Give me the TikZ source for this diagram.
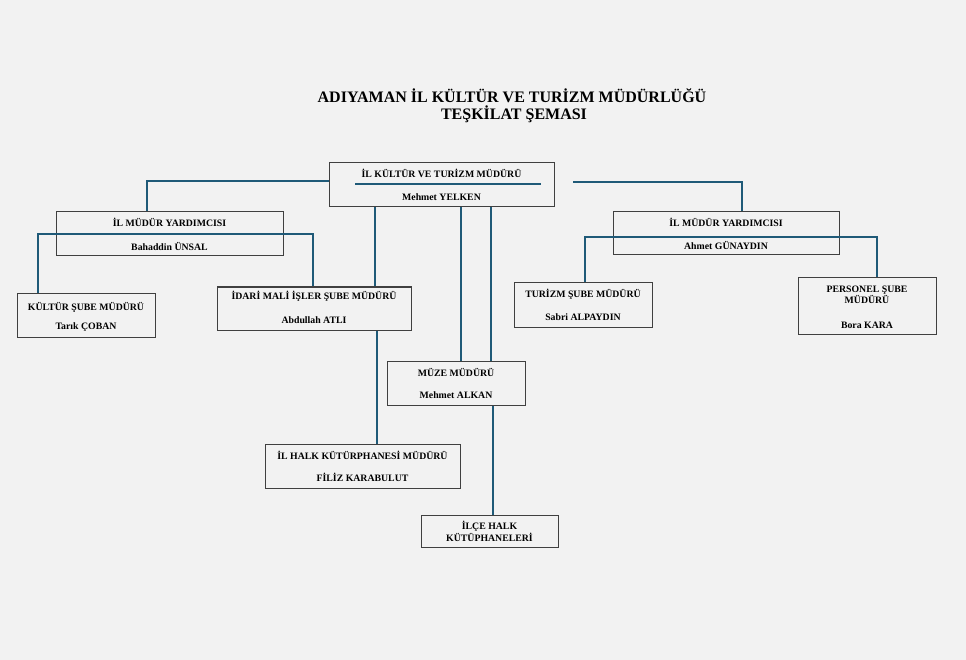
\documentclass[tikz,border=0pt]{standalone}
\usepackage{fontspec}
\setmainfont{Liberation Serif}
\definecolor{bgc}{HTML}{F2F2F2}
\definecolor{conc}{HTML}{1F5A78}
\definecolor{boxc}{HTML}{404040}
\begin{document}
\begin{tikzpicture}[x=1pt,y=-1pt,
  box/.style={draw=boxc, line width=1pt, rectangle, inner sep=0pt},
  txt/.style={inner sep=0pt, font=\bfseries\fontsize{9.8}{11}\selectfont, text=black},
  ttl/.style={inner sep=0pt, font=\bfseries\fontsize{16}{18}\selectfont, text=black},
  conn/.style={draw=conc, line width=1.3pt}]
\fill[bgc] (0,0) rectangle (966,660);
\useasboundingbox (0,0) rectangle (966,660);
% title
\node[ttl] (t1) at (512,96) {ADIYAMAN İL KÜLTÜR VE TURİZM MÜDÜRLÜĞÜ};
\node[ttl] (t2) at (514,114) {TEŞKİLAT ŞEMASI};
% boxes
\node[box, minimum width=225, minimum height=44] (top) at (441.5,185) {};
\node[box, minimum width=227, minimum height=44] (vyL) at (169.5,234) {};
\node[box, minimum width=226, minimum height=43] (vyR) at (726,233.5) {};
\node[box, minimum width=138, minimum height=44] (kultur) at (86,315) {};
\node[box, minimum width=194, minimum height=43] (idari) at (314,308.5) {};
\node[box, minimum width=138, minimum height=44] (turizm) at (583,305) {};
\node[box, minimum width=138, minimum height=56] (personel) at (867,306) {};
\node[box, minimum width=138, minimum height=44] (muze) at (456,383) {};
\node[box, minimum width=195, minimum height=44] (ilhalk) at (362.5,466) {};
\node[box, minimum width=137, minimum height=32] (ilce) at (489.5,531) {};
% texts
\node[txt] (topa) at (441.5,173) {İL KÜLTÜR VE TURİZM MÜDÜRÜ};
\node[txt] (topb) at (441.5,197) {Mehmet YELKEN};
\node[txt] (vyLa) at (169.5,222) {İL MÜDÜR YARDIMCISI};
\node[txt] (vyLb) at (169.5,246) {Bahaddin ÜNSAL};
\node[txt] (vyRa) at (726,222) {İL MÜDÜR YARDIMCISI};
\node[txt] (vyRb) at (726,245) {Ahmet GÜNAYDIN};
\node[txt] (kula) at (86,307) {KÜLTÜR ŞUBE MÜDÜRÜ};
\node[txt] (kulb) at (86,327) {Tarık ÇOBAN};
\node[txt] (ida) at (314,296) {İDARİ MALİ İŞLER ŞUBE MÜDÜRÜ};
\node[txt] (idb) at (314,320) {Abdullah ATLI};
\node[txt] (tura) at (583,294) {TURİZM ŞUBE MÜDÜRÜ};
\node[txt] (turb) at (583,317) {Sabri ALPAYDIN};
\node[txt, align=center] (pera) at (867,294.5) {PERSONEL ŞUBE\\MÜDÜRÜ};
\node[txt] (perb) at (867,325) {Bora KARA};
\node[txt] (muza) at (456,372) {MÜZE MÜDÜRÜ};
\node[txt] (muzb) at (456,395) {Mehmet ALKAN};
\node[txt] (hala) at (362.5,455) {İL HALK KÜTÜRPHANESİ MÜDÜRÜ};
\node[txt] (halb) at (362.5,477) {FİLİZ KARABULUT};
\node[txt, align=center] (ilca) at (489.5,531) {İLÇE HALK\\[1pt]KÜTÜPHANELERİ};
% connectors
\coordinate (sepL) at (355,184);
\coordinate (sepR) at (541,184);
\draw[conn] (sepL) -- (sepR);
\draw[conn] ([yshift=4pt]top.west) -| ([xshift=-22.5pt]vyL.north);
\coordinate (rs) at (573,182);
\draw[conn] (rs) -| ([xshift=16pt]vyR.north);
\coordinate (hL1) at (38,234);
\coordinate (hL2) at (313,234);
\draw[conn] ([xshift=-48pt]kultur.north) -- (hL1) -- (hL2) -- (hL2 |- idari.north);
\coordinate (hR1) at (585,237);
\coordinate (hR2) at (877,237);
\draw[conn] (turizm.north -| hR1) -- (hR1) -- (hR2) -- (hR2 |- personel.north);
\draw[conn] ([xshift=-66.5pt]top.south) -- ([xshift=-66.5pt]top.south |- idari.north);
\draw[conn] ([xshift=63pt]idari.south) -- ([xshift=63pt]idari.south |- ilhalk.north);
\draw[conn] ([xshift=19.5pt]top.south) -- ([xshift=19.5pt]top.south |- muze.north);
\draw[conn] ([xshift=49.5pt]top.south) -- ([xshift=49.5pt]top.south |- muze.north);
\draw[conn] ([xshift=37pt]muze.south) -- ([xshift=37pt]muze.south |- ilce.north);
\end{tikzpicture}
\end{document}
